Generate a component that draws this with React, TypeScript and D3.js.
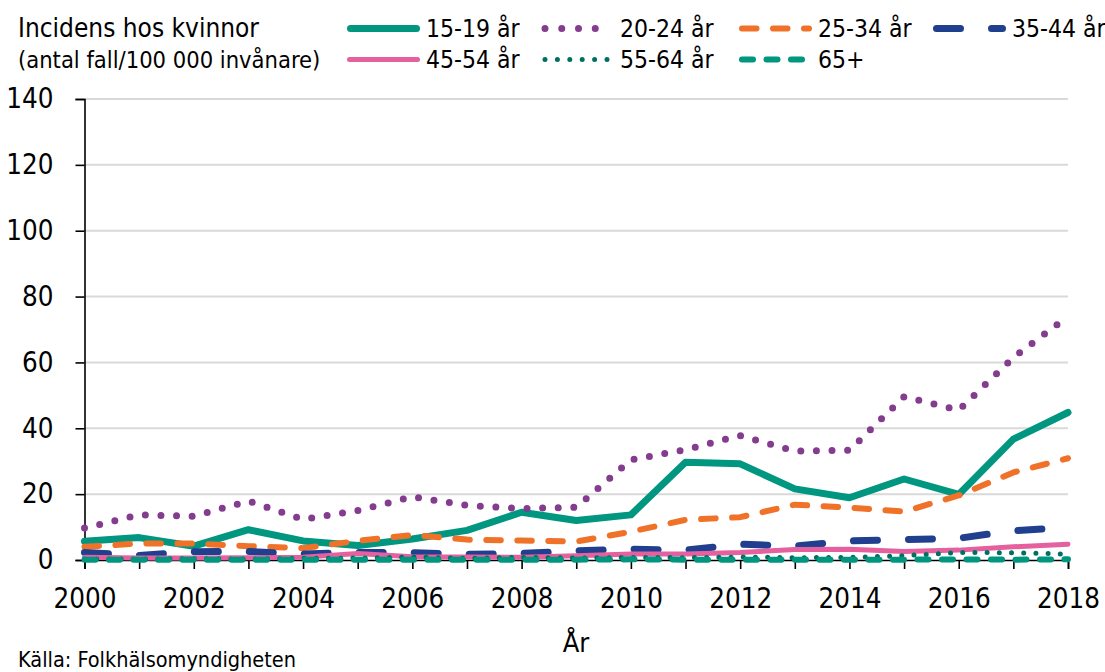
import React, { useEffect, useRef } from 'react';
import * as d3 from 'd3';

// år 2000-2018
const years = [2000, 2001, 2002, 2003, 2004, 2005, 2006, 2007, 2008, 2009, 2010, 2011, 2012, 2013, 2014, 2015, 2016, 2017, 2018];

// incidens per 100 000
const age1519 = [5.7, 6.8, 4.2, 9.2, 5.8, 4.4, 6.4, 9.0, 14.5, 12.0, 13.7, 29.7, 29.2, 21.6, 18.9, 24.6, 19.9, 36.7, 44.8];
const age2024 = [9.7, 13.7, 13.3, 17.9, 12.3, 15.0, 19.2, 16.6, 15.6, 16.0, 30.4, 33.5, 37.8, 33.1, 33.3, 49.6, 45.5, 61.5, 74.0];
const age2534 = [4.0, 5.0, 5.0, 4.2, 3.6, 5.8, 7.6, 6.2, 5.9, 5.6, 8.6, 12.2, 13.0, 16.8, 15.9, 14.7, 19.6, 26.6, 30.9];
const age3544 = [2.3, 1.4, 2.5, 2.6, 1.8, 2.3, 2.2, 1.7, 2.0, 2.8, 3.3, 3.0, 4.8, 4.2, 5.8, 6.2, 6.6, 8.9, 9.9];
const age4554 = [0.8, 0.6, 0.6, 0.7, 0.8, 2.0, 1.0, 0.9, 0.8, 1.3, 1.8, 1.8, 2.3, 3.2, 3.3, 2.6, 3.0, 4.0, 4.8];
const age5564 = [0.3, 0.3, 0.4, 0.3, 0.5, 0.6, 0.9, 0.5, 0.8, 0.6, 0.8, 0.7, 0.9, 0.7, 0.8, 1.3, 2.3, 2.2, 1.8];
const age65 = [0.1, 0.1, 0.1, 0.1, 0.1, 0.1, 0.1, 0.1, 0.1, 0.1, 0.2, 0.1, 0.1, 0.1, 0.1, 0.1, 0.2, 0.1, 0.2];

const yTicks = [0, 20, 40, 60, 80, 100, 120, 140];
const xTicks = [2000, 2002, 2004, 2006, 2008, 2010, 2012, 2014, 2016, 2018];

const FONT = "'DejaVu Sans Condensed', 'DejaVu Sans', sans-serif";

const series = [
  { name: '15-19 år', values: age1519, color: '#00967f', width: 7, dash: null },
  { name: '20-24 år', values: age2024, color: '#843c8e', width: 7, dash: '0 15.6' },
  { name: '25-34 år', values: age2534, color: '#f07228', width: 6, dash: '14.5 16.5' },
  { name: '35-44 år', values: age3544, color: '#203f8e', width: 7, dash: '24 31' },
  { name: '45-54 år', values: age4554, color: '#e5609e', width: 5, dash: null },
  { name: '55-64 år', values: age5564, color: '#006f63', width: 5, dash: '0 12.2' },
  { name: '65+', values: age65, color: '#00967f', width: 6, dash: '11 13.5' },
];

export default function App() {
  const ref = useRef<SVGSVGElement>(null);

  useEffect(() => {
    const svg = d3.select(ref.current);
    svg.selectAll('*').remove();

    const x = d3.scaleLinear().domain([2000, 2018]).range([84.5, 1068]);
    const y = d3.scaleLinear().domain([0, 140]).range([560, 99]);

    // rutnät
    svg.append('g')
      .selectAll('line')
      .data(yTicks.filter(d => d > 0))
      .enter()
      .append('line')
      .attr('x1', x(2000))
      .attr('x2', x(2018))
      .attr('y1', d => y(d))
      .attr('y2', d => y(d))
      .attr('stroke', '#d9d9d9')
      .attr('stroke-width', 2);

    // y-axel
    const yAxis = svg.append('g')
      .attr('transform', `translate(${x(2000)},0)`)
      .call(d3.axisLeft(y).tickValues(yTicks).tickSize(9).tickPadding(22));
    yAxis.select('.domain').attr('stroke', '#000').attr('stroke-width', 1.6);
    yAxis.selectAll('.tick line').attr('stroke', '#000').attr('stroke-width', 1.6);
    yAxis.selectAll('.tick text')
      .attr('font-family', FONT)
      .attr('font-size', 27.5)
      .attr('fill', '#000');

    // x-axel
    const xAxis = svg.append('g')
      .attr('transform', `translate(0,${y(0)})`)
      .call(d3.axisBottom(x).tickValues(years).tickSize(9).tickFormat(d => (xTicks.includes(+d) ? String(d) : '')).tickPadding(19));
    xAxis.select('.domain').attr('stroke', '#000').attr('stroke-width', 1.6);
    xAxis.selectAll('.tick line').attr('stroke', '#000').attr('stroke-width', 1.6);
    xAxis.selectAll('.tick text')
      .attr('font-family', FONT)
      .attr('font-size', 27.5)
      .attr('fill', '#000');

    // linjer
    const line = d3.line<number>()
      .x((d, i) => x(years[i]))
      .y(d => y(d));

    svg.append('g')
      .selectAll('path')
      .data(series)
      .enter()
      .append('path')
      .attr('d', d => line(d.values))
      .attr('fill', 'none')
      .attr('stroke', d => d.color)
      .attr('stroke-width', d => d.width)
      .attr('stroke-linecap', 'round')
      .attr('stroke-linejoin', 'round')
      .attr('stroke-dasharray', d => d.dash);

    // rubrik
    svg.append('text')
      .attr('x', 18)
      .attr('y', 37)
      .attr('font-family', FONT)
      .attr('font-size', 26)
      .text('Incidens hos kvinnor');
    svg.append('text')
      .attr('x', 18)
      .attr('y', 68)
      .attr('font-family', FONT)
      .attr('font-size', 23.5)
      .text('(antal fall/100 000 invånare)');

    // legend
    const colX = [347, 541, 739, 933];
    const legend = svg.append('g')
      .selectAll('g')
      .data(series)
      .enter()
      .append('g')
      .attr('transform', (d, i) => `translate(${colX[i % 4]},${i < 4 ? 28.5 : 59.5})`);
    legend.append('line')
      .attr('x1', d => (d.dash && d.dash.startsWith('0') ? 4 : d.width / 2))
      .attr('x2', d => (d.dash && d.dash.startsWith('0') ? (d.name === '20-24 år' ? 71 : 66) : 73 - d.width / 2))
      .attr('stroke', d => d.color)
      .attr('stroke-width', d => d.width)
      .attr('stroke-linecap', 'round')
      .attr('stroke-dasharray', d => (d.name === '20-24 år' ? '0 16.75' : d.name === '55-64 år' ? '0 12.4' : d.dash));
    legend.append('text')
      .attr('x', 79)
      .attr('y', 8)
      .attr('font-family', FONT)
      .attr('font-size', 24.5)
      .text(d => d.name);

    // axeltitel och källa
    svg.append('text')
      .attr('x', 576)
      .attr('y', 652)
      .attr('text-anchor', 'middle')
      .attr('font-family', FONT)
      .attr('font-size', 27)
      .text('År');
    svg.append('text')
      .attr('x', 18)
      .attr('y', 667)
      .attr('font-family', FONT)
      .attr('font-size', 21.5)
      .text('Källa: Folkhälsomyndigheten');
  }, []);

  return (
    <svg
      ref={ref}
      width={1105}
      height={672}
      style={{ position: 'absolute', left: 0, top: 0, background: '#fff' }}
    />
  );
}
